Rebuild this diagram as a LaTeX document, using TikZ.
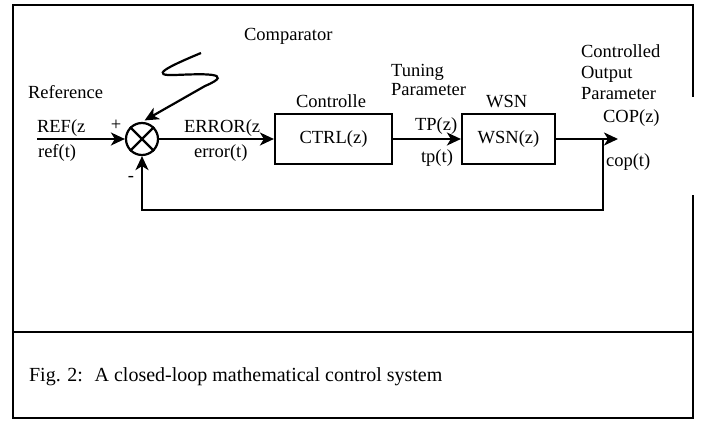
\documentclass[tikz,border=0pt]{standalone}
\usepackage{fontspec}
\setmainfont{Liberation Serif}
\usetikzlibrary{arrows.meta}

\begin{document}
\begin{tikzpicture}[x=1pt, y=-1pt, line width=2.2pt,
  txt/.style = {font=\fontsize{18.5}{21}\selectfont, inner sep=0pt, align=left},
  lbl/.style = {txt, anchor=base west},
  block/.style = {draw, txt, minimum height=50pt},
  sumnode/.style = {draw, circle, minimum size=32pt, inner sep=0pt},
  arr/.style = {-{Stealth[length=14pt, width=13pt, inset=4pt]}}]
\useasboundingbox (0,0) rectangle (706,422);

% frame and caption
\draw (693,97) -- (693,5) -- (13,5) -- (13,418) -- (693,418) -- (693,195);
\draw (13,332) -- (693,332);
\node[lbl, font=\fontsize{20}{22}\selectfont] (cap) at (28,381) {Fig. 2: \ A closed-loop mathematical control system};

\node[sumnode] (sum) at (142,139) {};
\draw (sum.45) -- (sum.225) (sum.135) -- (sum.315);
\node[block, minimum width=117pt] (ctrl) at (333.5,139) {CTRL(z)};
\node[block, minimum width=93pt] (wsn) at (508.5,139) {WSN(z)};

\coordinate (refin) at (37,139);
\coordinate (out) at (618,139);
\coordinate (br) at (603,139);
\coordinate (sq) at (201,53);

% labels
\node[lbl] (comp) at (243,41) {Comparator};
\node[lbl] (reflbl) at (27,99) {Reference};
\node[lbl] (refz) at (36,133) {REF(z};
\node[lbl] (reft) at (37,158) {ref(t)};
\node[txt] (plus) at (116,125) {+};
\node[txt] (minus) at (131,179) {-};
\node[lbl] (errz) at (183,133) {ERROR(z};
\node[lbl] (errt) at (193,158) {error(t)};
\node[lbl] (ctrllbl) at (295,108) {Controlle};
\node[lbl] (tune) at (390,96) {Tuning\\[-2pt]Parameter};
\node[lbl] (tpz) at (414,131) {TP(z)};
\node[lbl] (tpt) at (420,163) {tp(t)};
\node[lbl] (wsnlbl) at (485,108) {WSN};
\node[lbl] (coplbl) at (580,100) {Controlled\\Output\\Parameter};
\node[lbl] (copz) at (602,123) {COP(z)};
\node[lbl] (copt) at (605,167) {cop(t)};

% connectors
\draw[arr] (refin) -- (sum);
\draw[arr] (sum) -- (ctrl);
\draw[arr] (ctrl) -- (wsn);
\draw[arr] (wsn) -- (out);
\draw[arr] (br) -- ++(0,71) -| (sum.south);
\draw[arr, shorten >=3pt] (sq) .. controls (165,68) and (150,76) .. (175,75)
  .. controls (200,74) and (238,72) .. (205,86) -- (sum.north);

\end{tikzpicture}
\end{document}
